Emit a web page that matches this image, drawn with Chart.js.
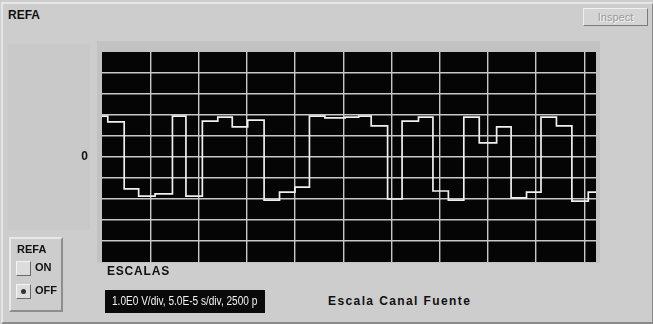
<!DOCTYPE html>
<html>
<head>
<meta charset="utf-8">
<script src="https://cdn.jsdelivr.net/npm/chart.js@4"></script>
<style>
  html, body { margin: 0; padding: 0; }
  body {
    width: 653px; height: 324px; position: relative; overflow: hidden;
    background: #cdcdcd;
    font-family: "Liberation Sans Narrow", "Liberation Sans", Arial, sans-serif;
  }
  .frame {
    position: absolute; left: 1px; top: 2px; width: 649px; height: 318px;
    border-top: 2px solid #e6e6e6; border-left: 2px solid #e6e6e6;
    border-right: 2px solid #8a8a8a; border-bottom: 2px solid #8a8a8a;
  }
  .title { position: absolute; left: 8px; top: 8px; font-weight: bold; font-size: 12px; color: #111; }
  .inspect {
    position: absolute; left: 583px; top: 8px; width: 63px; height: 16px;
    background: #d4d4d4; border: 1px solid #f0f0f0; border-right-color: #7a7a7a; border-bottom-color: #7a7a7a;
    font-size: 11px; color: #9a9a9a; text-align: center; line-height: 16px;
    text-shadow: 1px 1px 0 #f4f4f4;
  }
  .leftstrip { position: absolute; left: 8px; top: 44px; width: 82px; height: 186px; background: #c9c9c9; }
  .plotback { position: absolute; left: 97px; top: 41px; width: 503px; height: 222px; background: #c2c2c2; }
  #wrap { position: absolute; left: 60px; top: 52px; }
  .refabox {
    position: absolute; left: 9px; top: 237px; width: 50px; height: 71px;
    border: 2px solid #e8e8e8; border-right-color: #8d8d8d; border-bottom-color: #8d8d8d;
  }
  .refabox .t { position: absolute; left: 6px; top: 4px; font-weight: bold; font-size: 11px; color: #111; }
  .btn { position: absolute; left: 5px; width: 13px; height: 13px; background: #dcdcdc;
         border: 1px solid #f4f4f4; border-right-color: #6a6a6a; border-bottom-color: #6a6a6a; }
  .lbl { position: absolute; left: 24px; font-weight: bold; font-size: 11px; color: #111; }
  .escalas { position: absolute; left: 107px; top: 264px; font-weight: bold; font-size: 12px; color: #111; letter-spacing: 0.8px; }
  .scalebox {
    position: absolute; left: 105px; top: 290px; width: 160px; height: 23px; background: #0a0a0a;
    color: #f2f2f2; font-size: 12px; line-height: 23px; white-space: nowrap; overflow: hidden;
  }
  .scalebox span { display: inline-block; transform: scaleX(0.84); transform-origin: 0 50%; margin-left: 7px; }
  .fuente { position: absolute; left: 328px; top: 294px; font-weight: bold; font-size: 12px; color: #111; letter-spacing: 1.4px; }
</style>
</head>
<body>
<div class="frame"></div>
<div class="title">REFA</div>
<div class="inspect">Inspect</div>
<div class="leftstrip"></div>
<div class="plotback"></div>
<div id="wrap"><canvas id="scope" width="536" height="210"></canvas></div>
<div class="refabox">
  <div class="t">REFA</div>
  <div class="btn" style="top:22px"></div>
  <div class="lbl" style="top:22px">ON</div>
  <div class="btn" style="top:45px"><div style="position:absolute;left:4px;top:4px;width:5px;height:5px;border-radius:3px;background:#333"></div></div>
  <div class="lbl" style="top:45px">OFF</div>
</div>
<div class="escalas">ESCALAS</div>
<div class="scalebox"><span>1.0E0 V/div, 5.0E-5 s/div, 2500 p</span></div>
<div class="fuente">Escala Canal Fuente</div>

<script>
// time of each step (microseconds) and the level held from that time (volts)
const times = [0, 6, 23, 38, 55, 73, 87, 104, 120, 135,
  151, 168, 184, 200, 215, 231, 252, 266, 279, 296,
  311, 328, 343, 359, 375, 391, 409, 424, 440, 455,
  471, 487, 504, 512];
const levels = [1.95, 1.67, -1.52, -1.86, -1.76, 1.95, -1.86, 1.71, 1.9, 1.43,
  1.76, -2.05, -1.67, -1.43, 1.95, 1.86, 1.9, 1.95, 1.48, -2.0,
  1.71, 1.9, -1.62, -2.05, 1.9, 0.67, 1.43, -1.95, -1.67, 1.9,
  1.48, -2.1, -1.67, -1.67];
const timeTicks = [0, 50, 100, 150, 200, 250, 300, 350, 400, 450, 500];
const voltTicks = [-5, -4, -3, -2, -1, 0, 1, 2, 3, 4, 5];

const points = times.map((t, i) => ({ x: t, y: levels[i] }));

const blackArea = {
  id: "blackArea",
  beforeDraw(chart) {
    const { ctx, chartArea: a } = chart;
    ctx.save();
    ctx.fillStyle = "#050505";
    ctx.fillRect(a.left, a.top, a.right - a.left, a.bottom - a.top);
    ctx.restore();
  }
};

new Chart(document.getElementById("scope"), {
  type: "line",
  data: {
    datasets: [{
      data: points,
      stepped: true,
      borderColor: "#f0f0f0",
      borderWidth: 1.7,
      pointRadius: 0,
      fill: false
    }]
  },
  options: {
    responsive: false,
    animation: false,
    layout: { padding: 0 },
    plugins: { legend: { display: false }, tooltip: { enabled: false } },
    scales: {
      x: {
        type: "linear",
        min: 0,
        max: 512,
        border: { display: false },
        afterBuildTicks: s => { s.ticks = timeTicks.map(v => ({ value: v })); },
        afterFit: s => { s.height = 0; s.paddingLeft = 0; s.paddingRight = 0; },
        ticks: { display: false },
        grid: {
          drawTicks: false,
          lineWidth: 1.4,
          color: c => (c.tick && c.tick.value > 0) ? "#c8c8c8" : "rgba(0,0,0,0)"
        }
      },
      y: {
        min: -5,
        max: 5,
        border: { display: false },
        afterBuildTicks: s => { s.ticks = voltTicks.map(v => ({ value: v })); },
        afterFit: s => { s.width = 42; s.paddingTop = 0; s.paddingBottom = 0; },
        ticks: {
          padding: 14,
          color: "#111",
          font: { family: "Liberation Sans Narrow, Liberation Sans, Arial", size: 12, weight: "bold" },
          callback: v => (v === 0 ? "0" : "")
        },
        grid: {
          drawTicks: false,
          lineWidth: 1.4,
          color: c => (c.tick && Math.abs(c.tick.value) < 5) ? "#c8c8c8" : "rgba(0,0,0,0)"
        }
      }
    }
  },
  plugins: [blackArea]
});
</script>
</body>
</html>
